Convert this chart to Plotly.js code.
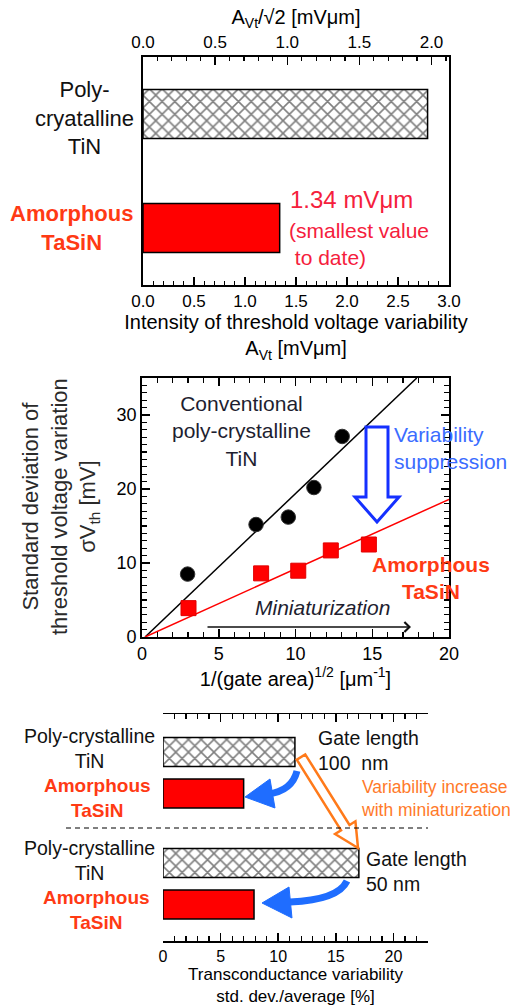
<!DOCTYPE html>
<html>
<head>
<meta charset="utf-8">
<script src="https://cdn.plot.ly/plotly-3.0.1.min.js"></script>
<style>html,body{margin:0;padding:0;background:#fff;}#chart{width:515px;height:1006px;}</style>
</head>
<body>
<div id="chart"></div>
<script>
// ---------- DATA ----------
const gateCategories = ["Poly-cryatalline TiN", "Amorphous TaSiN"];
const avtValues = [2.79, 1.34];                 // A_Vt [mV·µm]

const tinX = [2.97, 7.43, 9.53, 11.2, 13.04];   // 1/(gate area)^1/2 [µm^-1]
const tinY = [8.5, 15.2, 16.2, 20.2, 27.1];     // σVth [mV]
const tasinX = [3.03, 7.76, 10.18, 12.3, 14.78];
const tasinY = [3.9, 8.6, 8.96, 11.7, 12.5];
const tinFitX = [0.2, 17.9];
const tinFitY = [0, 35];
const tasinFitX = [0.2, 20];
const tasinFitY = [0, 18.6];

const gmCategories = ["Poly-crystalline TiN", "Amorphous TaSiN"];
const gm100nm = [11.45, 7.0];                   // transconductance variability [%]
const gm50nm = [17.0, 7.9];

// ---------- HELPERS (layout only) ----------
const W = 515, H = 1006;
const px = x => x / W;
const py = y => 1 - y / H;
const P = (x, y) => (x / W).toFixed(5) + ',' + (1 - y / H).toFixed(5);
const FONT = 'Liberation Sans, Arial, sans-serif';
const RED_TXT = '#ff3a14';

function blockArrow(x0, y0, x1, y1, shaftHalf, headHalf, headLen) {
  const dx = x1 - x0, dy = y1 - y0, L = Math.hypot(dx, dy);
  const ux = dx / L, uy = dy / L, nx = -uy, ny = ux;
  const bx = x1 - headLen * ux, by = y1 - headLen * uy;
  const pts = [
    [x0 + shaftHalf * nx, y0 + shaftHalf * ny],
    [bx + shaftHalf * nx, by + shaftHalf * ny],
    [bx + headHalf * nx, by + headHalf * ny],
    [x1, y1],
    [bx - headHalf * nx, by - headHalf * ny],
    [bx - shaftHalf * nx, by - shaftHalf * ny],
    [x0 - shaftHalf * nx, y0 - shaftHalf * ny]
  ];
  return 'M' + pts.map(p => P(p[0], p[1])).join(' L') + ' Z';
}

const hatch = {
  color: '#ffffff',
  line: {color: '#000', width: 1.5},
  pattern: {shape: 'x', fgcolor: '#000000', bgcolor: '#ffffff', fillmode: 'overlay', size: 9, solidity: 0.32}
};
const solidRed = {color: '#ff0000', line: {color: '#000', width: 1.5}};

function barPair(values, cats, xa, ya, w) {
  return [
    {type: 'bar', orientation: 'h', x: [values[0]], y: [cats[0]], xaxis: xa, yaxis: ya, width: w,
     marker: hatch, showlegend: false},
    {type: 'bar', orientation: 'h', x: [values[1]], y: [cats[1]], xaxis: xa, yaxis: ya, width: w,
     marker: solidRed, showlegend: false}
  ];
}

// ---------- TRACES ----------
const traces = [].concat(
  barPair(avtValues, gateCategories, 'x', 'y', 0.43),
  [
    // carrier for the top (A_Vt/√2) axis of panel 1
    {type: 'scatter', mode: 'markers', x: [], y: [], xaxis: 'x4', yaxis: 'y', showlegend: false, hoverinfo: 'skip'},
    {type: 'scatter', mode: 'lines', x: tinFitX, y: tinFitY, xaxis: 'x2', yaxis: 'y2',
     line: {color: '#000', width: 1.5}, showlegend: false},
    {type: 'scatter', mode: 'lines', x: tasinFitX, y: tasinFitY, xaxis: 'x2', yaxis: 'y2',
     line: {color: '#ff0000', width: 1.5}, showlegend: false},
    {type: 'scatter', mode: 'markers', x: tinX, y: tinY, xaxis: 'x2', yaxis: 'y2',
     marker: {symbol: 'circle', size: 14.5, color: '#000', line: {color: '#333', width: 1}},
     showlegend: false, cliponaxis: false},
    {type: 'scatter', mode: 'markers', x: tasinX, y: tasinY, xaxis: 'x2', yaxis: 'y2',
     marker: {symbol: 'square', size: 15, color: '#ff0000', line: {color: '#e00000', width: 1}},
     showlegend: false, cliponaxis: false}
  ],
  barPair(gm100nm, gmCategories, 'x3', 'y3', 0.7),
  barPair(gm50nm, gmCategories, 'x5', 'y5', 0.7)
);

// ---------- AXES ----------
const baseAx = {
  showgrid: false, zeroline: false, showline: true, linecolor: '#000',
  ticks: 'inside', tickcolor: '#000', tickfont: {family: FONT, size: 17, color: '#000'},
  fixedrange: true
};

const layout = {
  width: W, height: H,
  margin: {l: 0, r: 0, t: 0, b: 0},
  paper_bgcolor: '#fff', plot_bgcolor: 'rgba(0,0,0,0)',
  font: {family: FONT, color: '#000'},
  showlegend: false,
  barmode: 'overlay',
  // Panel 1
  xaxis: Object.assign({}, baseAx, {
    domain: [px(143), px(449)], anchor: 'y', range: [0, 3], dtick: 0.5, tick0: 0,
    tickformat: '.1f', linewidth: 2, ticklen: 8, tickwidth: 1.5,
    minor: {dtick: 0.1, ticklen: 4, ticks: 'inside', tickcolor: '#000', tickwidth: 1.2},
    title: {text: 'Intensity of threshold voltage variability<br>A<sub>Vt</sub> [mVμm]',
            font: {family: FONT, size: 20}, standoff: 1}
  }),
  xaxis4: Object.assign({}, baseAx, {
    overlaying: 'x', side: 'top', anchor: 'y', range: [0, 3 / Math.SQRT2], dtick: 0.5, tick0: 0,
    tickformat: '.1f', linewidth: 2, ticklen: 8, tickwidth: 1.5,
    minor: {dtick: 0.1, ticklen: 4, ticks: 'inside', tickcolor: '#000', tickwidth: 1.2},
    title: {text: 'A<sub>Vt</sub>/√2 [mVμm]', font: {family: FONT, size: 20}, standoff: 3}
  }),
  yaxis: {
    domain: [py(285), py(57)], anchor: 'x', type: 'category', categoryarray: gateCategories,
    range: [1.5, -0.5],
    showline: true, mirror: true, linewidth: 2, linecolor: '#000', ticks: '',
    showticklabels: false, showgrid: false, zeroline: false, fixedrange: true
  },
  // Panel 2
  xaxis2: Object.assign({}, baseAx, {
    domain: [px(142), px(449)], anchor: 'y2', range: [0, 20], dtick: 5, tick0: 0,
    mirror: 'allticks', linewidth: 1.8, ticklen: 8, tickwidth: 1.5,
    tickfont: {family: FONT, size: 18},
    minor: {dtick: 1, ticklen: 5, ticks: 'inside', tickcolor: '#000', tickwidth: 1.2},
    title: {text: '1/(gate area)<sup>1/2</sup> [μm<sup>-1</sup>]', font: {family: FONT, size: 20}, standoff: 0}
  }),
  yaxis2: Object.assign({}, baseAx, {
    domain: [py(637), py(378)], anchor: 'x2', range: [0, 35], dtick: 10, tick0: 0,
    mirror: 'allticks', linewidth: 1.8, ticklen: 8, tickwidth: 1.5,
    tickfont: {family: FONT, size: 18},
    minor: {dtick: 1, ticklen: 5, ticks: 'inside', tickcolor: '#000', tickwidth: 1.2}
  }),
  // Panel 3 (top group: 100 nm)
  xaxis3: Object.assign({}, baseAx, {
    domain: [px(163), px(428)], anchor: 'y3', side: 'top', range: [0, 23], dtick: 5, tick0: 0,
    linewidth: 1.5, ticklen: 8, tickwidth: 1.5, showticklabels: false,
    minor: {dtick: 1, ticklen: 5, ticks: 'inside', tickcolor: '#000', tickwidth: 1.2}
  }),
  yaxis3: {
    domain: [py(828), py(714)], anchor: 'x3', type: 'category', categoryarray: gmCategories,
    range: [1.831, -0.916],
    showline: false, ticks: '', showticklabels: false, showgrid: false, zeroline: false, fixedrange: true
  },
  // Panel 3 (bottom group: 50 nm)
  xaxis5: Object.assign({}, baseAx, {
    domain: [px(163), px(428)], anchor: 'y5', side: 'bottom', range: [0, 23], dtick: 5, tick0: 0,
    linewidth: 1.5, ticklen: 8, tickwidth: 1.5, tickfont: {family: FONT, size: 16},
    minor: {dtick: 1, ticklen: 5, ticks: 'inside', tickcolor: '#000', tickwidth: 1.2},
    title: {text: 'Transconductance variability<br>std. dev./average [%]', font: {family: FONT, size: 17}, standoff: 4}
  }),
  yaxis5: {
    domain: [py(941), py(828)], anchor: 'x5', type: 'category', categoryarray: gmCategories,
    range: [1.88, -0.843],
    showline: false, ticks: '', showticklabels: false, showgrid: false, zeroline: false, fixedrange: true
  },
  annotations: [],
  shapes: []
};

const ann = (x, y, text, opts) => Object.assign({
  xref: 'paper', yref: 'paper', x: px(x), y: py(y), text: text, showarrow: false,
  xanchor: 'center', yanchor: 'middle', align: 'center',
  font: {family: FONT, size: 18, color: '#000'}
}, opts || {});

// Panel 1 labels
layout.annotations.push(
  ann(84, 118, 'Poly-<br>cryatalline<br>TiN', {font: {family: FONT, size: 22, color: '#111'}}),
  ann(71, 228, '<b>Amorphous<br>TaSiN</b>', {font: {family: FONT, size: 22, color: RED_TXT}}),
  ann(288, 200, '1.34 mVμm', {xanchor: 'left', align: 'left', font: {family: FONT, size: 24, color: '#f5203c'}}),
  ann(287, 244, '(smallest value<br> to date)', {xanchor: 'left', align: 'left', font: {family: FONT, size: 21, color: '#f5203c'}})
);
// Panel 2 labels
layout.annotations.push(
  // y-axis title of panel 2 (rotated)
  ann(60, 507, 'Standard deviation of<br>threshold voltage variation<br>σV<sub>th</sub> [mV]',
      {textangle: -90, font: {family: FONT, size: 22, color: '#2a2a2a'}}),
  ann(241, 431, 'Conventional<br>poly-crystalline<br>TiN', {font: {family: FONT, size: 21, color: '#1e1e30'}}),
  ann(392, 448, 'Variability<br>suppression', {xanchor: 'left', align: 'left', font: {family: FONT, size: 21, color: '#3b6cff'}}),
  ann(431, 578, '<b>Amorphous<br>TaSiN</b>', {font: {family: FONT, size: 21, color: RED_TXT}}),
  ann(322, 607, '<i>Miniaturization</i>', {font: {family: FONT, size: 21, color: '#1e1e30'}}),
  {xref: 'paper', yref: 'paper', x: px(411), y: py(627), ax: -205, ay: 0, axref: 'pixel', ayref: 'pixel',
   text: '', showarrow: true, arrowhead: 4, arrowsize: 1.3, arrowwidth: 1.5, arrowcolor: '#111'}
);
// Panel 3 labels
layout.annotations.push(
  ann(89, 748, 'Poly-crystalline<br>TiN', {font: {family: FONT, size: 19.5, color: '#111'}}),
  ann(97, 798, '<b>Amorphous<br>TaSiN</b>', {font: {family: FONT, size: 19, color: RED_TXT}}),
  ann(89, 860, 'Poly-crystalline<br>TiN', {font: {family: FONT, size: 19.5, color: '#111'}}),
  ann(96, 910, '<b>Amorphous<br>TaSiN</b>', {font: {family: FONT, size: 19, color: RED_TXT}}),
  ann(316, 750, 'Gate length<br>100  nm', {xanchor: 'left', align: 'left', font: {family: FONT, size: 19.5, color: '#111'}}),
  ann(364, 871, 'Gate length<br>50 nm', {xanchor: 'left', align: 'left', font: {family: FONT, size: 19.5, color: '#111'}}),
  ann(359, 798, 'Variability increase<br>with miniaturization', {xanchor: 'left', align: 'left', font: {family: FONT, size: 17.5, color: '#ff7a2a'}})
);

// Shapes
layout.shapes.push(
  // blue hollow arrow (variability suppression)
  {type: 'path', xref: 'paper', yref: 'paper',
   path: 'M' + P(366, 427) + ' L' + P(388, 427) + ' L' + P(388, 497) + ' L' + P(399, 497) + ' L' + P(377, 522) + ' L' + P(355, 497) + ' L' + P(366, 497) + ' Z',
   line: {color: '#1530ff', width: 3}, fillcolor: '#fff'},
  // orange hollow arrow (variability increase)
  {type: 'path', xref: 'paper', yref: 'paper', path: blockArrow(301, 757, 358, 848, 5, 12, 24),
   line: {color: '#ff7a1a', width: 2.5}, fillcolor: '#fff'},
  // dashed separator
  {type: 'line', xref: 'paper', yref: 'paper', x0: px(66), x1: px(428), y0: py(828), y1: py(828),
   line: {color: '#000', width: 1.2, dash: '5px,4px'}},
  // blue curved arrow 1
  {type: 'path', xref: 'paper', yref: 'paper', path: 'M' + P(297, 771) + ' Q' + P(292, 791) + ' ' + P(268, 794),
   line: {color: '#1f6dff', width: 7}, fillcolor: 'rgba(0,0,0,0)'},
  {type: 'path', xref: 'paper', yref: 'paper', path: 'M' + P(245, 797) + ' L' + P(270, 779) + ' L' + P(275, 808) + ' Z',
   line: {color: '#1f6dff', width: 1}, fillcolor: '#1f6dff'},
  // blue curved arrow 2
  {type: 'path', xref: 'paper', yref: 'paper', path: 'M' + P(347, 881) + ' Q' + P(338, 900) + ' ' + P(290, 902),
   line: {color: '#1f6dff', width: 7}, fillcolor: 'rgba(0,0,0,0)'},
  {type: 'path', xref: 'paper', yref: 'paper', path: 'M' + P(262, 903) + ' L' + P(289, 887) + ' L' + P(292, 918) + ' Z',
   line: {color: '#1f6dff', width: 1}, fillcolor: '#1f6dff'}
);

Plotly.newPlot('chart', traces, layout, {staticPlot: true, displayModeBar: false});
</script>
</body>
</html>
